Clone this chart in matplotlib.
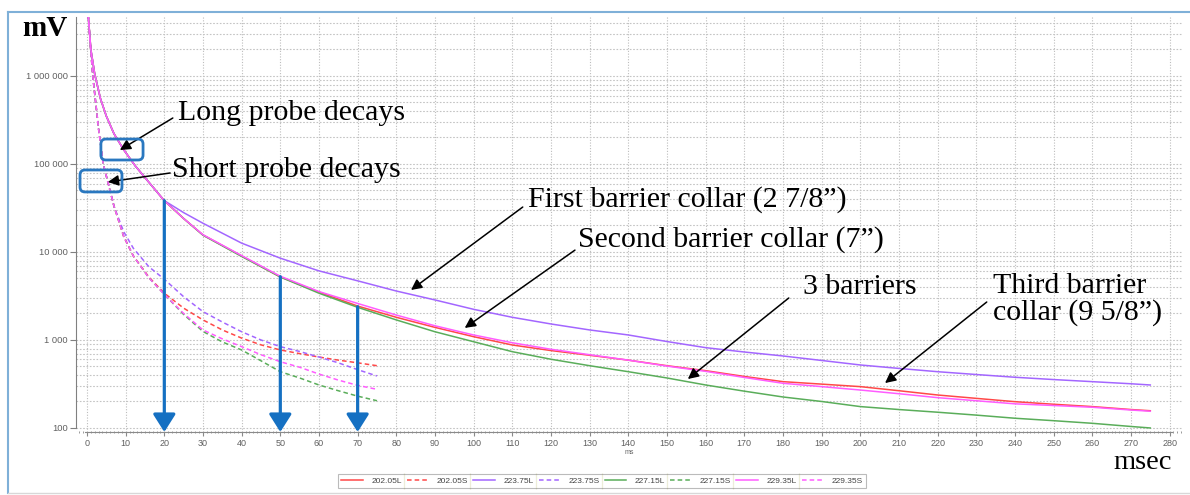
import matplotlib
matplotlib.use('Agg')
import matplotlib.pyplot as plt
from matplotlib.ticker import MultipleLocator, FixedLocator, LogLocator, FuncFormatter, NullFormatter
from matplotlib.patches import FancyBboxPatch
from matplotlib.lines import Line2D
from matplotlib.transforms import IdentityTransform

############################## data ##############################
t_long = [0.3, 1, 2, 3.5, 5, 7, 9.5, 12.5, 16, 20, 25, 30, 40, 50, 60, 70, 80, 90, 100, 110,
          120, 130, 140, 150, 160, 170, 180, 190, 200, 210, 220, 230, 240, 250, 260, 270, 275]

red_L = [5.0e6, 2.0e6, 1.05e6, 5.5e5, 3.5e5, 2.2e5, 1.45e5, 9.5e4, 6.2e4, 3.83e4,
         2.4e4, 1.56e4, 9.0e3, 5.2e3, 3.5e3, 2430, 1810, 1390, 1090, 877,
         758, 670, 590, 510, 448, 385, 336, 315, 295, 265, 237, 217, 199, 186, 175, 162, 157]
purple_L = [5.0e6, 2.0e6, 1.05e6, 5.5e5, 3.5e5, 2.2e5, 1.45e5, 9.5e4, 6.2e4, 3.83e4,
            2.8e4, 2.12e4, 1.26e4, 8.5e3, 6.1e3, 4700, 3600, 2850, 2230, 1810,
            1520, 1300, 1140, 960, 818, 730, 658, 585, 520, 475, 436, 405, 377, 355, 336, 318, 308]
green_L = [5.0e6, 2.0e6, 1.05e6, 5.5e5, 3.5e5, 2.2e5, 1.45e5, 9.5e4, 6.2e4, 3.83e4,
           2.4e4, 1.55e4, 8.9e3, 5.2e3, 3.4e3, 2350, 1690, 1240, 955, 736,
           604, 510, 436, 370, 308, 262, 225, 200, 175, 162, 151, 140, 129, 121, 113, 104, 100]
magenta_L = [5.0e6, 2.0e6, 1.05e6, 5.5e5, 3.5e5, 2.2e5, 1.45e5, 9.5e4, 6.2e4, 3.83e4,
             2.4e4, 1.57e4, 9.1e3, 5.3e3, 3.55e3, 2600, 1920, 1450, 1140, 930,
             784, 680, 590, 505, 440, 375, 322, 295, 270, 245, 221, 204, 188, 180, 172, 160, 155]

t_short = [0.3, 0.8, 1.5, 3, 4.2, 5.5, 7, 9.5, 12, 16, 20, 25, 30, 35, 40, 45, 50, 55, 60, 65, 70, 75]

red_S = [5e6, 2.5e6, 1e6, 2.5e5, 1e5, 6e4, 3.3e4, 1.5e4, 9e3, 5.2e3, 3.4e3,
         2300, 1690, 1300, 1050, 880, 770, 700, 640, 590, 550, 510]
purple_S = [5e6, 2.5e6, 1e6, 2.5e5, 1e5, 6e4, 3.3e4, 1.7e4, 1.1e4, 6.8e3, 4.9e3,
            3100, 2100, 1600, 1240, 1000, 840, 740, 640, 550, 460, 390]
green_S = [5e6, 2.5e6, 1e6, 2.5e5, 1e5, 6e4, 3.3e4, 1.5e4, 9e3, 5.1e3, 3.3e3,
           1950, 1250, 950, 770, 580, 436, 370, 308, 265, 230, 204]
magenta_S = [5e6, 2.5e6, 1e6, 2.5e5, 1e5, 6e4, 3.3e4, 1.5e4, 9e3, 5.1e3, 3.3e3,
             2000, 1300, 1030, 840, 680, 566, 490, 410, 350, 305, 275]

labels = ['202.05L', '202.05S', '223.75L', '223.75S', '227.15L', '227.15S', '229.35L', '229.35S']
colors = ['#ff4848', '#a366ff', '#5aad5a', '#ff5cff']

# blue arrows: time and starting level on the decay curves
arrow_t = [20, 50, 70]
arrow_top = [38300, 5240, 2390]

############################## figure ##############################
fig = plt.figure(figsize=(11.9, 4.95), dpi=100)
ax = fig.add_axes([76 / 1190, 63 / 495, 1106 / 1190, 415 / 495])
ax.set_yscale('log')
ax.set_xlim(-2.84, 283.2)
ax.set_ylim(90, 4.68e6)

dash = (0, (3, 2))
series = [(t_long, red_L, '-'), (t_short, red_S, dash),
          (t_long, purple_L, '-'), (t_short, purple_S, dash),
          (t_long, green_L, '-'), (t_short, green_S, dash),
          (t_long, magenta_L, '-'), (t_short, magenta_S, dash)]
handles = []
for i, (tt, vv, ls) in enumerate(series):
    l, = ax.plot(tt, vv, color=colors[i // 2], ls=ls, lw=1.1, zorder=3)
    handles.append(l)

# grid / axes look
ax.grid(which='major', axis='x', color='#bdbdbd', ls=(0, (1, 1.5)), lw=0.8)
ax.grid(which='both', axis='y', color='#c4c4c4', ls=(0, (1.5, 1.5)), lw=0.8)
ax.set_axisbelow(True)
for s in ['top', 'right']:
    ax.spines[s].set_visible(False)
ax.spines['left'].set_color('#808080')
ax.spines['left'].set_bounds(100, 4.68e6)
ax.spines['bottom'].set_color('#8a8a8a')
ax.spines['bottom'].set_bounds(-0.5, 280.5)

ax.xaxis.set_major_locator(MultipleLocator(10))
ax.xaxis.set_minor_locator(MultipleLocator(1))
ax.yaxis.set_major_locator(FixedLocator([100, 1e3, 1e4, 1e5, 1e6]))
ax.yaxis.set_minor_locator(LogLocator(base=10, subs=range(2, 10), numticks=20))
ax.yaxis.set_minor_formatter(NullFormatter())
ax.yaxis.set_major_formatter(FuncFormatter(lambda v, p: '{:,}'.format(int(v)).replace(',', ' ')))
ax.tick_params(axis='x', which='major', length=3, color='#8a8a8a', labelsize=6.5,
               labelcolor='#606060', pad=2)
ax.tick_params(axis='x', which='minor', length=2, direction='inout', color='#8a8a8a')
ax.tick_params(axis='y', which='major', length=4, color='#808080', labelsize=6.7,
               labelcolor='#606060', pad=2)
ax.tick_params(axis='y', which='minor', length=0)
for lab in ax.get_xticklabels() + ax.get_yticklabels():
    lab.set_family('Liberation Sans')
ax.set_xlabel('ms', fontsize=5, color='#666666', labelpad=1, family='Liberation Sans')

serif = 'Liberation Serif'
fig.text(22 / 1190, 1 - 29 / 495, 'mV', fontsize=21, family=serif, weight='bold', va='center')
fig.text(1113 / 1190, 1 - 469 / 495, 'msec', fontsize=20.5, family=serif, va='baseline')

# text annotations with black arrows
notes = [
    ('Long probe decays', (23.5, 3.8e5), (22.2, 3.33e5), (8.5, 1.44e5)),
    ('Short probe decays', (22.0, 8.55e4), (21.5, 7.9e4), (5.4, 6.24e4)),
    ('First barrier collar (2 7/8\u201d)', (114.0, 3.9e4), (112.7, 3.24e4), (83.8, 3.7e3)),
    ('Second barrier collar (7\u201d)', (127.0, 1.37e4), (126.2, 1.05e4), (97.7, 1.37e3)),
    ('3 barriers', (185.2, 4.0e3), (181.5, 3.0e3), (155.4, 360)),
    ('Third barrier\ncollar (9 5/8\u201d)', (234.3, 2.85e3), (232.7, 2.7e3), (206.4, 324)),
]
for txt, pos, tail, tip in notes:
    ax.text(pos[0], pos[1], txt, fontsize=21.5, family=serif, va='center', ha='left',
            linespacing=1.0, zorder=5)
    ax.annotate('', xy=tip, xytext=tail,
                arrowprops=dict(arrowstyle='-|>', color='black', lw=1.1,
                                mutation_scale=16, shrinkA=0, shrinkB=0), zorder=5)

blue = '#1570c2'
for t, top in zip(arrow_t, arrow_top):
    ax.annotate('', xy=(t, 90), xytext=(t, top),
                arrowprops=dict(arrowstyle='-|>,head_length=0.6,head_width=0.38', color=blue,
                                lw=2.3, mutation_scale=18, shrinkA=0, shrinkB=0), zorder=6)

# rounded highlight boxes around the probe decays (data corners)
boxes = [((3.6, 1.11e5), (14.5, 1.92e5)), ((-1.8, 4.81e4), (9.05, 8.55e4))]
for (t0, v0), (t1, v1) in boxes:
    x0, y0 = ax.transData.transform((t0, v0))
    x1, y1 = ax.transData.transform((t1, v1))
    p = FancyBboxPatch((x0, y0), x1 - x0, y1 - y0, boxstyle='round,pad=0,rounding_size=5',
                       fc='none', ec='#2a78c0', lw=2.0, transform=IdentityTransform(),
                       clip_on=False, zorder=7)
    ax.add_patch(p)

# legend below the axis
leg = fig.legend(handles, labels, ncol=8, loc='center', bbox_to_anchor=(602 / 1190, 1 - 481 / 495),
                 fontsize=6, frameon=True, fancybox=False, edgecolor='#aaaaaa',
                 handlelength=2.6, handletextpad=1.0, columnspacing=0.6, borderpad=0.35,
                 borderaxespad=0)
leg.get_frame().set_linewidth(0.8)
for tx in leg.get_texts():
    tx.set_color('#444444')
    tx.set_family('Liberation Sans')

# thin frame of the original screenshot
fig.add_artist(Line2D([8 / 1190, 1], [1 - 12 / 495] * 2, color='#7fb0d8', lw=1.5,
                      transform=fig.transFigure))
fig.add_artist(Line2D([8 / 1190] * 2, [2 / 495, 1 - 12 / 495], color='#7fb0d8', lw=1.5,
                      transform=fig.transFigure))
fig.add_artist(Line2D([8 / 1190, 1], [2 / 495] * 2, color='#d8d8d8', lw=1.0,
                      transform=fig.transFigure))

# olive separators between legend entries
fig.canvas.draw()
r = fig.canvas.get_renderer()
fb = leg.get_frame().get_window_extent(r)
inv = fig.transFigure.inverted()
for tx in leg.get_texts()[:-1]:
    bb = tx.get_window_extent(r)
    xs = bb.x1 + 2
    (fx, fy0), (_, fy1) = inv.transform([(xs, fb.y0), (xs, fb.y1)])
    fig.add_artist(Line2D([fx, fx], [fy0, fy1], color='#a8a848', lw=0.9,
                          transform=fig.transFigure))

plt.savefig('out.png', dpi=100)
